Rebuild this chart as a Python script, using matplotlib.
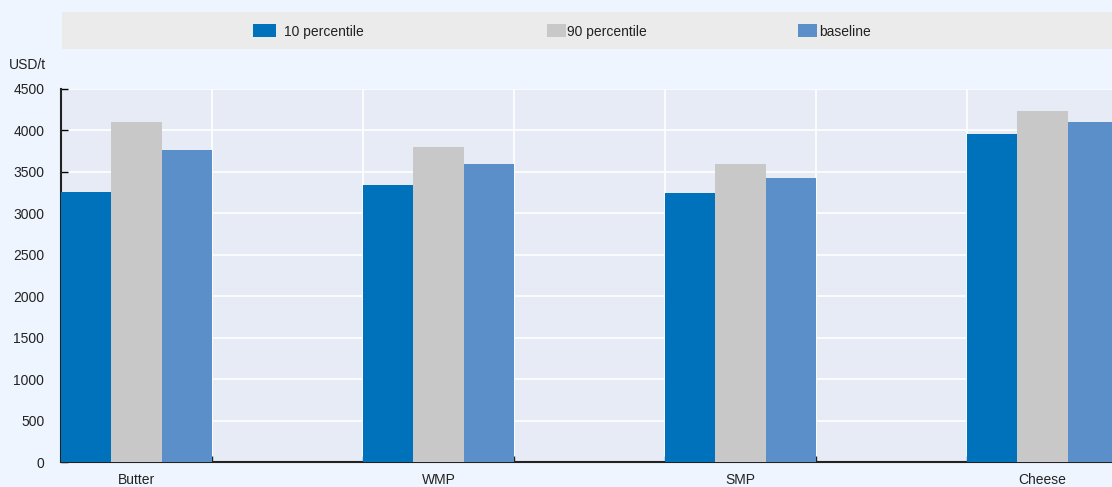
import numpy as np
import matplotlib
matplotlib.use("Agg")
import matplotlib.pyplot as plt
from matplotlib.patches import Rectangle

plt.rcParams['font.family'] = ['Liberation Sans', 'DejaVu Sans']

categories = ["Butter", "WMP", "SMP", "Cheese"]
p10 = [3255, 3342, 3245, 3955]
p90 = [4100, 3800, 3595, 4232]
baseline = [3765, 3595, 3425, 4100]
series_names = ["10 percentile", "90 percentile", "baseline"]
colors = ["#0072BB", "#C8C8C8", "#5A8FCA"]

bg = "#EEF5FE"
fig = plt.figure(figsize=(11.12, 4.87), dpi=100, facecolor=bg)
W, H = 1112, 487
ax = fig.add_axes([61 / W, 25 / H, 1 - 61 / W, (462 - 89) / H])
ax.set_facecolor("#E6EBF5")

x = np.arange(len(categories))
w = 1 / 6
for i, (vals, c) in enumerate(zip([p10, p90, baseline], colors)):
    ax.bar(x - w + i * w, vals, width=w, color=c, zorder=3)

ax.set_yticks(np.arange(0, 4501, 500))
ax.set_xticks(x)
ax.set_xticklabels(categories)
ax.set_xticks(np.arange(-0.25, 3.3, 0.5), minor=True)
# limits after the ticks, otherwise set_xticks widens them
ax.set_xlim(-0.25, 3.23)
ax.set_ylim(0, 4500)
ax.grid(axis='y', color='white', linewidth=1.2, zorder=1)
ax.grid(axis='x', which='minor', color='white', linewidth=1.2, zorder=1)
ax.tick_params(axis='x', which='major', length=0, labelsize=10, pad=8, labelcolor='#222222')
ax.tick_params(axis='x', which='minor', direction='in', length=4, width=1, color='#222222')
ax.tick_params(axis='y', direction='in', length=5, width=1, labelsize=10, pad=12, labelcolor='#222222')
for s in ['top', 'right']:
    ax.spines[s].set_visible(False)
for s in ['left', 'bottom']:
    ax.spines[s].set_color('#222222')
    ax.spines[s].set_linewidth(1.5)

fig.text(27 / W, 1 - 65 / H, "USD/t", ha='center', va='center', fontsize=10, color='#222222')

# legend band
fig.patches.append(Rectangle((62 / W, 1 - 49 / H), 1 - 62 / W, 37 / H,
                             transform=fig.transFigure, facecolor="#EBEBEB", edgecolor='none'))
handle_x = [253, 547, 798]
handle_w = [23, 19, 19]
text_x = [284, 567, 819]
for name, c, hx, hw, tx in zip(series_names, colors, handle_x, handle_w, text_x):
    fig.patches.append(Rectangle((hx / W, 1 - 37 / H), hw / W, 13 / H,
                                 transform=fig.transFigure, facecolor=c, edgecolor='none'))
    fig.text(tx / W, 1 - 32 / H, name, ha='left', va='center', fontsize=10, color='#222222')

fig.savefig("out.png", dpi=100, facecolor=bg)
